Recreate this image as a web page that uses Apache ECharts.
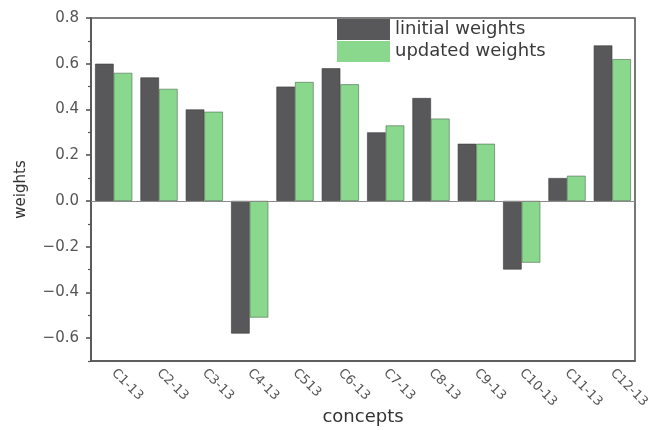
<!DOCTYPE html>
<html>
<head>
<meta charset="utf-8">
<script src="https://cdn.jsdelivr.net/npm/echarts@6/dist/echarts.min.js"></script>
<style>
  html, body { margin: 0; padding: 0; background: #fff; }
  #chart { width: 653px; height: 430px; }
</style>
</head>
<body>
<div id="chart"></div>
<script>
  const concepts = ['C1-13', 'C2-13', 'C3-13', 'C4-13', 'C513', 'C6-13', 'C7-13', 'C8-13', 'C9-13', 'C10-13', 'C11-13', 'C12-13']
  const initialWeights = [0.60, 0.54, 0.40, -0.58, 0.50, 0.58, 0.30, 0.45, 0.25, -0.30, 0.10, 0.68]
  const updatedWeights = [0.56, 0.49, 0.39, -0.51, 0.52, 0.51, 0.33, 0.36, 0.25, -0.27, 0.11, 0.62]
  const majorTicks = [-0.6, -0.4, -0.2, 0, 0.2, 0.4, 0.6, 0.8]
  const minorTicks = [-0.7, -0.5, -0.3, -0.1, 0.1, 0.3, 0.5, 0.7]

  const chart = echarts.init(document.getElementById('chart'))
  const font = 'DejaVu Sans, Verdana, sans-serif'

  chart.setOption({
    animation: false,
    textStyle: { fontFamily: font },
    grid: {
      left: 91, right: 18, top: 18, bottom: 69,
      outerBoundsMode: 'none',
      show: true, borderColor: '#555', borderWidth: 1.6
    },
    legend: {
      orient: 'vertical',
      left: 337, top: 19,
      icon: 'rect',
      itemWidth: 53, itemHeight: 21, itemGap: 1,
      itemStyle: { borderWidth: 0 },
      backgroundColor: '#fff',
      padding: [0, 4, 3, 0],
      textStyle: { fontSize: 18, color: '#3a3a3a', fontFamily: font },
      data: ['linitial weights', 'updated weights']
    },
    xAxis: [
      {
        type: 'category',
        data: concepts,
        name: 'concepts',
        nameLocation: 'middle',
        nameGap: 47,
        nameMoveOverlap: false,
        nameTextStyle: { fontSize: 18, color: '#333' },
        axisLine: { onZero: false, lineStyle: { color: '#555', width: 1.6 } },
        axisTick: { alignWithLabel: true, length: 5, lineStyle: { color: '#555', width: 1.6 } },
        axisLabel: { rotate: -45, fontSize: 13, color: '#555', margin: 10 }
      },
      {
        type: 'category',
        data: concepts,
        position: 'bottom',
        axisLine: { show: false },
        axisTick: { length: 3, lineStyle: { color: '#555', width: 1.2 } },
        axisLabel: { show: false }
      }
    ],
    yAxis: [
      {
        type: 'value',
        min: -0.7, max: 0.8,
        name: 'weights',
        nameLocation: 'middle',
        nameGap: 62,
        nameMoveOverlap: false,
        nameTextStyle: { fontSize: 15, color: '#333' },
        splitLine: { show: false },
        axisLine: { show: true, lineStyle: { color: '#555', width: 1.6 } },
        axisTick: { show: true, length: 5, customValues: majorTicks, lineStyle: { color: '#555', width: 1.6 } },
        axisLabel: {
          customValues: majorTicks,
          fontSize: 15, color: '#555', margin: 12,
          formatter: v => v.toFixed(1).replace('-', '\u2212')
        }
      },
      {
        type: 'value',
        min: -0.7, max: 0.8,
        position: 'left',
        splitLine: { show: false },
        axisLine: { show: false },
        axisTick: { show: true, length: 3, customValues: minorTicks, lineStyle: { color: '#555', width: 1.2 } },
        axisLabel: { show: false, customValues: minorTicks }
      }
    ],
    series: [
      {
        name: 'linitial weights',
        type: 'bar',
        data: initialWeights,
        barGap: '0%',
        barCategoryGap: '18%',
        itemStyle: { color: '#58585a', borderColor: '#3c3c3c', borderWidth: 0.6 },
        markLine: {
          silent: true,
          symbol: 'none',
          label: { show: false },
          lineStyle: { color: '#8a8a8a', width: 1, type: 'solid' },
          data: [{ yAxis: 0 }]
        }
      },
      {
        name: 'updated weights',
        type: 'bar',
        data: updatedWeights,
        itemStyle: { color: '#8ad88e', borderColor: '#4a6a4c', borderWidth: 0.6 }
      }
    ]
  })
</script>
</body>
</html>
